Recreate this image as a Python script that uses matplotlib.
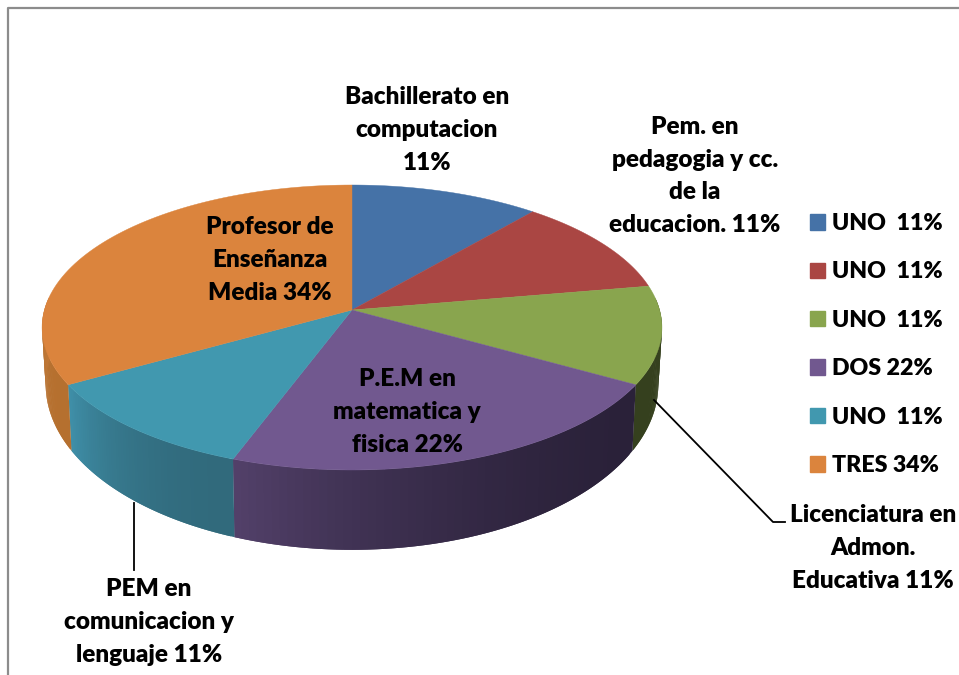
import numpy as np
import matplotlib
matplotlib.use('Agg')
import matplotlib.pyplot as plt
from matplotlib.patches import Patch

counts = [1, 1, 1, 2, 1, 3]
legend_names = ['UNO  11%', 'UNO  11%', 'UNO  11%', 'DOS 22%', 'UNO  11%', 'TRES 34%']
labels = ['Bachillerato en\ncomputacion\n11%',
          'Pem. en\npedagogia y cc.\nde la\neducacion. 11%',
          'Licenciatura en\nAdmon.\nEducativa 11%',
          'P.E.M en\nmatematica y\nfisica 22%',
          'PEM en\ncomunicacion y\nlenguaje 11%',
          'Profesor de\nEnseñanza\nMedia 34%']
label_pos = [(427, 130), (695, 176), (873, 548), (407, 412), (149, 622), (270, 260)]

colors = ['#4572a7', '#aa4643', '#89a54e', '#71588f', '#4198af', '#db843d']
wall_left = ['#4572a7', '#aa4643', '#35401e', '#524069', '#3f8fa8', '#c47a38']
wall_right = ['#4572a7', '#aa4643', '#35401e', '#2a2139', '#316a7c', '#b5702f']

plt.rcParams['font.family'] = ['Lato', 'DejaVu Sans']

fig = plt.figure(figsize=(9.59, 6.75), dpi=100)
ax = fig.add_axes([0, 0, 1, 1])
ax.set_xlim(0, 959)
ax.set_ylim(675, 0)
ax.axis('off')

# gray frame, only top and left show
ax.plot([8, 8, 959], [675, 8, 8], color='#8c8c8c', lw=1.6)

cx = 352
k = 0.1228


def rim(t, r, y0, s):
    # t in degrees clockwise from the top, tilted circle in perspective
    u = np.sin(np.radians(t))
    v = np.cos(np.radians(t))
    d = 1 + k * v
    return cx + r * u / d, y0 - s * v / d


def hex_mix(a, b, f):
    ca = np.array(matplotlib.colors.to_rgb(a))
    cb = np.array(matplotlib.colors.to_rgb(b))
    return ca + (cb - ca) * f


edges = np.cumsum([0] + counts) / sum(counts) * 360

# side wall first, top goes over it
for i in range(len(counts)):
    a = max(edges[i], 85)
    b = min(edges[i + 1], 275)
    if b <= a:
        continue
    steps = np.linspace(a, b, 61)
    for j in range(60):
        # each strip runs to the end of the next one so no seams show
        ts = steps[j:j + 3]
        x1, y1 = rim(ts, 307.6, 310, 140.35)
        x2, y2 = rim(ts, 304, 364, 163)
        f = (j / 59) ** 2
        # going clockwise along the front means right to left on the picture
        c = hex_mix(wall_right[i], wall_left[i], f)
        ax.fill(np.r_[x1, x2[::-1]], np.r_[y1, y2[::-1]], color=c, lw=0, zorder=2)

handles = []
for i in range(len(counts)):
    ts = np.linspace(edges[i], edges[i + 1], 80)
    x, y = rim(ts, 307.6, 310, 140.35)
    ax.fill(np.r_[cx, x], np.r_[310, y], color=colors[i], lw=0.3, zorder=3)
    handles.append(Patch(color=colors[i], label=legend_names[i]))

# leader lines
ax.plot([654, 773, 785], [400, 522, 522], color='black', lw=1.3, zorder=4)
ax.plot([134, 134], [503, 570], color='black', lw=1.3, zorder=4)

for txt, pos in zip(labels, label_pos):
    ax.text(pos[0], pos[1], txt, ha='center', va='center', fontsize=17.5,
            fontweight=800, color='black', linespacing=1.6, zorder=5)

ax.legend(handles=handles, loc='center left', bbox_to_anchor=(810 / 959, 1 - 344.5 / 675),
          frameon=False, handlelength=0.65, handleheight=0.65,
          prop={'size': 16.7, 'weight': 800},
          handletextpad=0.3, labelspacing=1.18, borderpad=0, borderaxespad=0)

fig.savefig('out.png', dpi=100)
